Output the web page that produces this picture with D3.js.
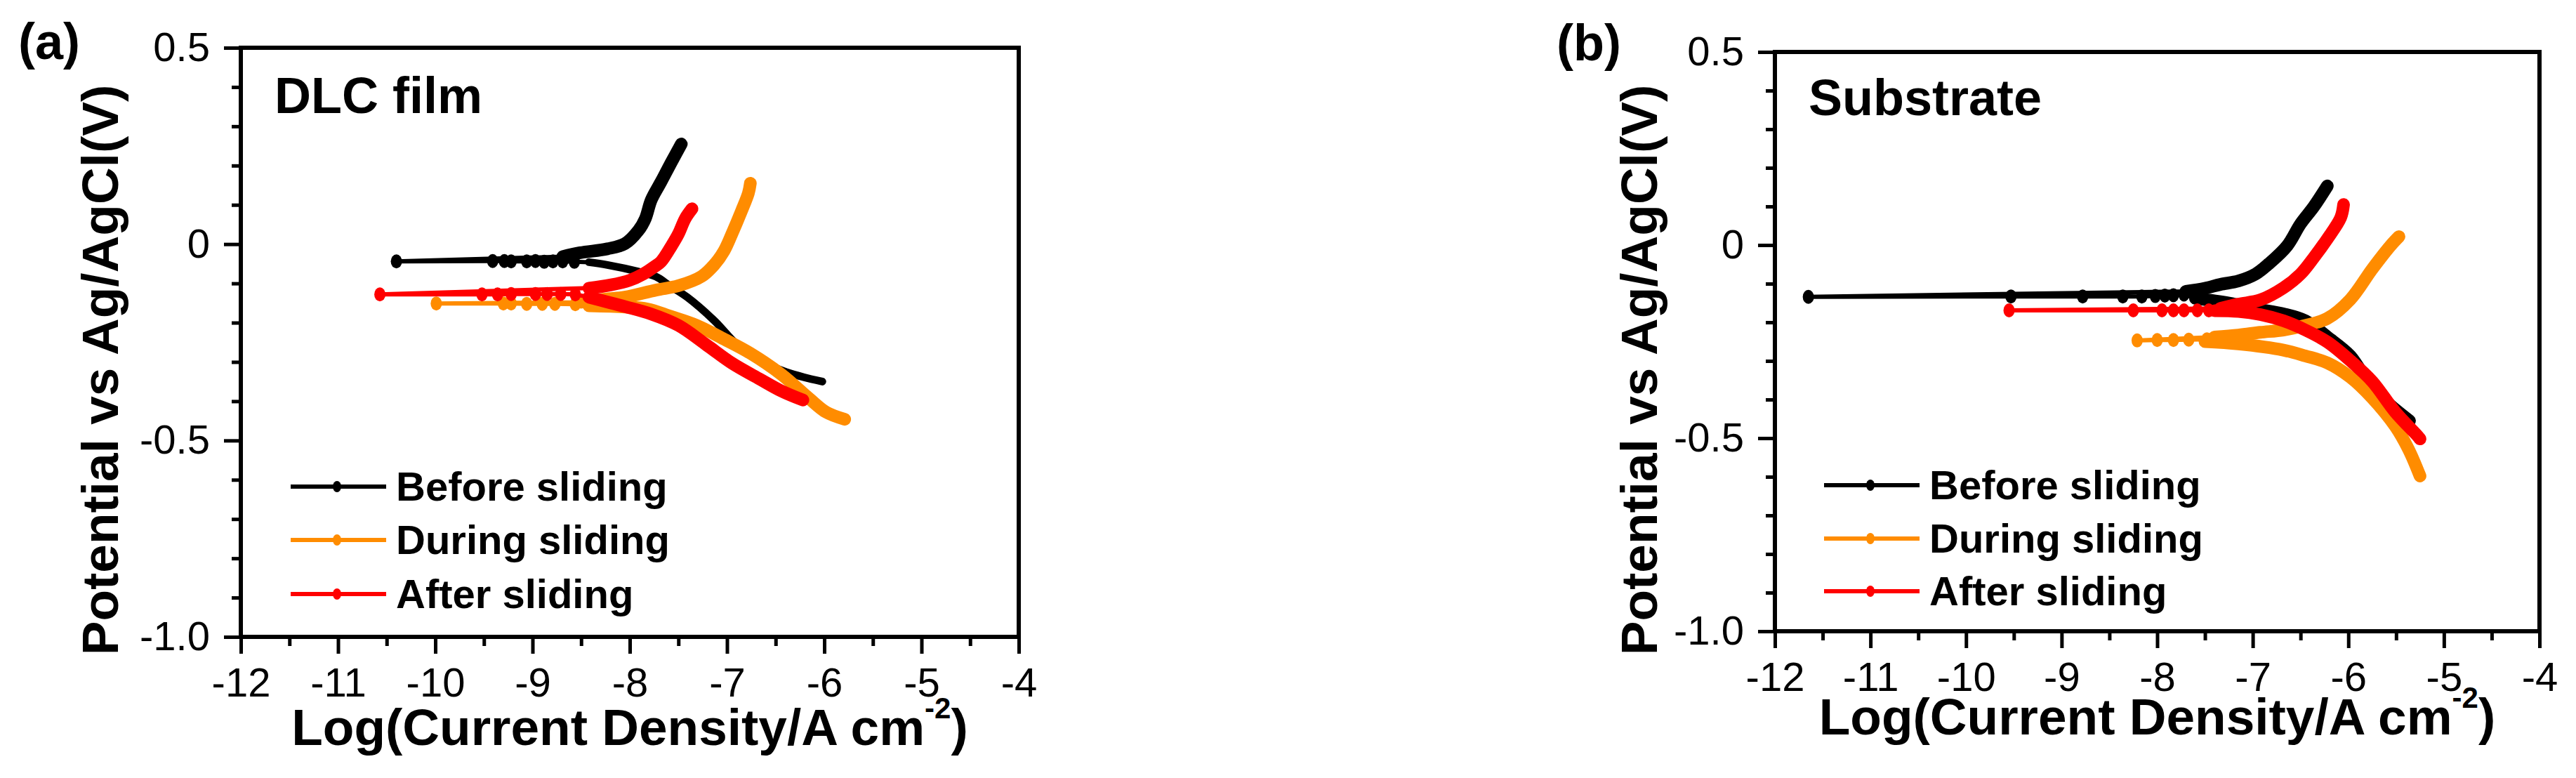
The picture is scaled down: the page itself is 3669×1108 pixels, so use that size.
<!DOCTYPE html>
<meta charset="utf-8">
<style>
body { margin: 0; background: #fff; }
text { font-family: "Liberation Sans", Arial, sans-serif; fill: #000; }
.axis path.domain { display: none; }
.axis line { stroke: #000; stroke-width: 5; }
.axis text { font-size: 58px; font-family: "Liberation Sans", Arial, sans-serif; }
</style>
<svg id="chart" width="3669" height="1108"></svg>
<script src="https://d3js.org/d3.v7.min.js"></script>
<script>

// ---- data: [log(current density), potential V] ----
var seriesNames = ["Before sliding", "During sliding", "After sliding"];

var xMajor = [-12, -11, -10, -9, -8, -7, -6, -5, -4];
var yMajor = [0.5, 0, -0.5, -1.0];
var yLabels = ["0.5", "0", "-0.5", "-1.0"];

// (a) DLC film
var dlcBeforeCathodic = [[-6.02,-0.350],[-6.21,-0.339],[-6.39,-0.326],[-6.55,-0.310],[-6.66,-0.296],[-6.90,-0.255],[-7.13,-0.195],[-7.41,-0.135],[-7.59,-0.106],[-7.73,-0.083],[-7.91,-0.070],[-8.23,-0.053],[-8.42,-0.046]];
var dlcBeforeSparse = [[-8.57,-0.045],[-8.69,-0.044],[-8.79,-0.044],[-8.88,-0.045],[-8.97,-0.043],[-9.06,-0.044],[-9.22,-0.044],[-9.29,-0.043],[-9.41,-0.043],[-10.40,-0.044]];
var dlcBeforeAnodic = [[-8.69,-0.032],[-8.51,-0.022],[-8.23,-0.012],[-8.05,0.001],[-7.91,0.035],[-7.84,0.065],[-7.78,0.112],[-7.68,0.158],[-7.58,0.205],[-7.47,0.255]];

var dlcDuringCathodic = [[-5.79,-0.446],[-5.98,-0.428],[-6.16,-0.392],[-6.44,-0.332],[-6.76,-0.278],[-7.03,-0.242],[-7.31,-0.207],[-7.59,-0.183],[-7.82,-0.165],[-8.05,-0.160],[-8.42,-0.157]];
var dlcDuringSparse = [[-8.56,-0.153],[-8.77,-0.152],[-8.90,-0.152],[-9.06,-0.152],[-9.22,-0.151],[-9.30,-0.151],[-9.99,-0.151]];
var dlcDuringAnodic = [[-8.50,-0.148],[-8.25,-0.140],[-8.05,-0.135],[-7.73,-0.117],[-7.50,-0.106],[-7.26,-0.082],[-7.13,-0.052],[-7.03,-0.017],[-6.95,0.026],[-6.85,0.085],[-6.78,0.130],[-6.76,0.155]];

var dlcAfterCathodic = [[-6.22,-0.397],[-6.44,-0.374],[-6.66,-0.344],[-6.95,-0.303],[-7.22,-0.255],[-7.50,-0.207],[-7.78,-0.178],[-8.05,-0.159],[-8.42,-0.135]];
var dlcAfterSparse = [[-8.56,-0.128],[-8.71,-0.127],[-8.85,-0.127],[-8.97,-0.127],[-9.22,-0.127],[-9.36,-0.128],[-9.52,-0.128],[-10.57,-0.128]];
var dlcAfterAnodic = [[-8.42,-0.112],[-8.20,-0.104],[-8.00,-0.092],[-7.86,-0.076],[-7.75,-0.058],[-7.68,-0.045],[-7.57,-0.004],[-7.50,0.026],[-7.43,0.065],[-7.36,0.090]];

// (b) Substrate
var subBeforeCathodic = [[-5.36,-0.455],[-5.56,-0.415],[-5.75,-0.371],[-5.98,-0.287],[-6.22,-0.238],[-6.45,-0.196],[-6.68,-0.178],[-6.97,-0.165],[-7.25,-0.150],[-7.60,-0.138]];
var subBeforeSparse = [[-7.72,-0.128],[-7.83,-0.130],[-7.92,-0.131],[-8.02,-0.132],[-8.16,-0.133],[-8.36,-0.133],[-8.78,-0.133],[-9.53,-0.133],[-11.65,-0.134]];
var subBeforeAnodic = [[-7.70,-0.120],[-7.50,-0.112],[-7.34,-0.102],[-7.15,-0.093],[-6.97,-0.075],[-6.83,-0.048],[-6.64,-0.002],[-6.50,0.055],[-6.36,0.100],[-6.22,0.153]];

var subDuringCathodic = [[-5.25,-0.598],[-5.37,-0.529],[-5.51,-0.469],[-5.75,-0.396],[-5.98,-0.342],[-6.22,-0.305],[-6.45,-0.287],[-6.68,-0.272],[-7.15,-0.256],[-7.50,-0.250]];
var subDuringSparse = [[-7.32,-0.243],[-7.48,-0.244],[-7.67,-0.245],[-7.83,-0.246],[-8.00,-0.246],[-8.21,-0.247]];
var subDuringAnodic = [[-7.40,-0.238],[-7.15,-0.233],[-6.92,-0.226],[-6.68,-0.220],[-6.45,-0.208],[-6.22,-0.190],[-5.98,-0.141],[-5.75,-0.062],[-5.56,-0.002],[-5.47,0.022]];

var subAfterCathodic = [[-5.25,-0.502],[-5.28,-0.493],[-5.51,-0.432],[-5.75,-0.353],[-5.98,-0.299],[-6.22,-0.251],[-6.45,-0.220],[-6.68,-0.196],[-6.92,-0.180],[-7.15,-0.172],[-7.40,-0.170]];
var subAfterSparse = [[-7.46,-0.169],[-7.58,-0.169],[-7.72,-0.169],[-7.83,-0.169],[-7.95,-0.169],[-8.25,-0.169],[-9.55,-0.169]];
var subAfterAnodic = [[-7.34,-0.164],[-7.15,-0.153],[-6.92,-0.142],[-6.68,-0.111],[-6.50,-0.075],[-6.36,-0.032],[-6.22,0.016],[-6.08,0.071],[-6.05,0.105]];

// ---- styles / layout ----
var colors = ["#000000", "#ff8c00", "#ff0000"];

var panels = [
  {tag: "(a)", title: "DLC film", left: 343, right: 1451, top: 68, bottom: 907,
   tagX: 26, tagY: 84, titleX: 391, titleY: 161, yLabX: 168, xLabY: 1061,
   legX: 414, legY: [693, 769, 846],
   series: [
     {c: dlcBeforeCathodic, s: dlcBeforeSparse, a: dlcBeforeAnodic, wc: 11},
     {c: dlcDuringCathodic, s: dlcDuringSparse, a: dlcDuringAnodic, wc: 18},
     {c: dlcAfterCathodic, s: dlcAfterSparse, a: dlcAfterAnodic, wc: 18}
   ]},
  {tag: "(b)", title: "Substrate", left: 2528, right: 3617, top: 74, bottom: 899,
   tagX: 2217, tagY: 86, titleX: 2576, titleY: 164, yLabX: 2360, xLabY: 1046,
   legX: 2598, legY: [691, 767, 842],
   series: [
     {c: subBeforeCathodic, s: subBeforeSparse, a: subBeforeAnodic, wc: 18},
     {c: subDuringCathodic, s: subDuringSparse, a: subDuringAnodic, wc: 18},
     {c: subAfterCathodic, s: subAfterSparse, a: subAfterAnodic, wc: 18}
   ]}
];

var svg = d3.select("#chart");

panels.forEach(function(p) {
  var x = d3.scaleLinear().domain([-12, -4]).range([p.left, p.right]);
  var y = d3.scaleLinear().domain([-1, 0.5]).range([p.bottom, p.top]);
  var g = svg.append("g");

  var thin = d3.line().x(function(d) { return x(d[0]); }).y(function(d) { return y(d[1]); });
  var smooth = d3.line().curve(d3.curveCatmullRom.alpha(0.5))
      .x(function(d) { return x(d[0]); }).y(function(d) { return y(d[1]); });

  // series: thin connecting line, thick dense branches, sparse markers near Ecorr
  p.series.forEach(function(s, i) {
    var sg = g.append("g");
    var col = colors[i];
    sg.append("path")
        .attr("d", thin(s.c.concat(s.s, s.a)))
        .attr("fill", "none").attr("stroke", col).attr("stroke-width", 6);
    sg.append("path")
        .attr("d", smooth(s.c))
        .attr("fill", "none").attr("stroke", col).attr("stroke-width", s.wc)
        .attr("stroke-linecap", "round").attr("stroke-linejoin", "round");
    sg.append("path")
        .attr("d", smooth(s.a))
        .attr("fill", "none").attr("stroke", col).attr("stroke-width", 18)
        .attr("stroke-linecap", "round").attr("stroke-linejoin", "round");
    sg.selectAll("ellipse").data(s.s).enter().append("ellipse")
        .attr("cx", function(d) { return x(d[0]); })
        .attr("cy", function(d) { return y(d[1]); })
        .attr("rx", 8).attr("ry", 10)
        .attr("fill", col);
  });

  // frame
  g.append("rect")
      .attr("x", p.left).attr("y", p.top)
      .attr("width", p.right - p.left).attr("height", p.bottom - p.top)
      .attr("fill", "none").attr("stroke", "#000").attr("stroke-width", 6);

  // axes
  g.append("g").attr("class", "axis")
      .attr("transform", "translate(0," + p.bottom + ")")
      .call(d3.axisBottom(x).tickValues(d3.range(-11.5, -4, 1)).tickSize(13).tickFormat(""));
  g.append("g").attr("class", "axis")
      .attr("transform", "translate(0," + p.bottom + ")")
      .call(d3.axisBottom(x).tickValues(xMajor).tickSize(24).tickPadding(20)
        .tickFormat(function(d) { return String(d); }));
  g.append("g").attr("class", "axis")
      .attr("transform", "translate(" + p.left + ",0)")
      .call(d3.axisLeft(y).tickValues(d3.range(-0.9, 0.5, 0.1).filter(function(v) {
        return Math.abs(v * 2 - Math.round(v * 2)) > 1e-6; })).tickSize(13).tickFormat(""));
  g.append("g").attr("class", "axis")
      .attr("transform", "translate(" + p.left + ",0)")
      .call(d3.axisLeft(y).tickValues(yMajor).tickSize(24).tickPadding(20)
        .tickFormat(function(d, i) { return yLabels[i]; }));

  // labels
  g.append("text").attr("x", p.tagX).attr("y", p.tagY)
      .attr("font-size", 72).attr("font-weight", "bold").text(p.tag);
  g.append("text").attr("x", p.titleX).attr("y", p.titleY)
      .attr("font-size", 72).attr("font-weight", "bold").text(p.title);

  g.append("text")
      .attr("transform", "translate(" + p.yLabX + ",527) rotate(-90)")
      .attr("text-anchor", "middle")
      .attr("font-size", 73).attr("font-weight", "bold")
      .text("Potential vs Ag/AgCl(V)");

  var xl = g.append("text")
      .attr("x", (p.left + p.right) / 2).attr("y", p.xLabY)
      .attr("text-anchor", "middle")
      .attr("font-size", 73).attr("font-weight", "bold");
  xl.append("tspan").text("Log(Current Density/A cm");
  xl.append("tspan").attr("font-size", 42).attr("dy", -38).text("-2");
  xl.append("tspan").attr("dy", 38).text(")");

  // legend
  seriesNames.forEach(function(name, i) {
    var ly = p.legY[i];
    g.append("line")
        .attr("x1", p.legX).attr("x2", p.legX + 136)
        .attr("y1", ly).attr("y2", ly)
        .attr("stroke", colors[i]).attr("stroke-width", 6);
    g.append("ellipse")
        .attr("cx", p.legX + 66).attr("cy", ly)
        .attr("rx", 6).attr("ry", 8).attr("fill", colors[i]);
    g.append("text")
        .attr("x", p.legX + 150).attr("y", ly + 20)
        .attr("font-size", 58).attr("font-weight", "bold")
        .text(name);
  });
});

</script>
